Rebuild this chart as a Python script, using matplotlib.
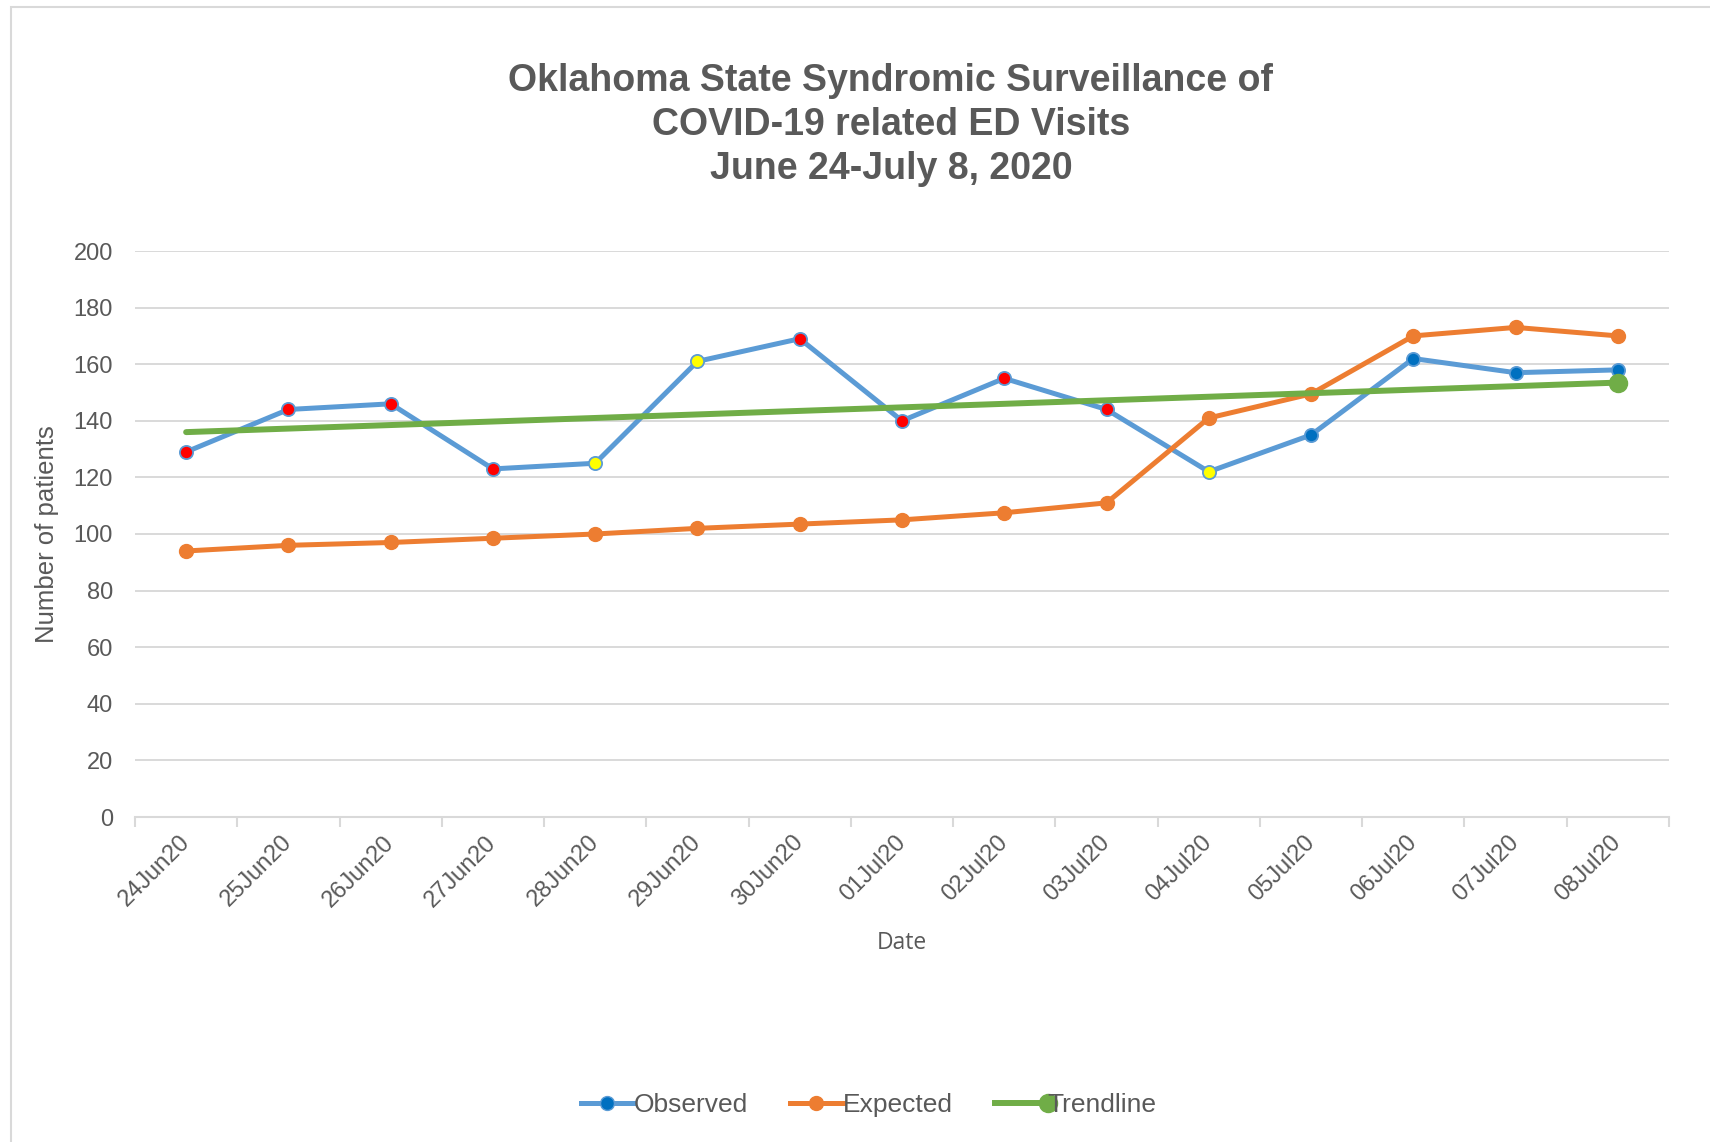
import matplotlib
matplotlib.use("Agg")
import matplotlib.pyplot as plt
from matplotlib.patches import Rectangle
from matplotlib.lines import Line2D
from matplotlib.legend_handler import HandlerLine2D
from matplotlib.transforms import ScaledTranslation

dates = ["24Jun20", "25Jun20", "26Jun20", "27Jun20", "28Jun20", "29Jun20", "30Jun20",
         "01Jul20", "02Jul20", "03Jul20", "04Jul20", "05Jul20", "06Jul20", "07Jul20", "08Jul20"]
observed = [129, 144, 146, 123, 125, 161, 169, 140, 155, 144, 122, 135, 162, 157, 158]
observed_flag = ["red", "red", "red", "red", "yellow", "yellow", "red",
                 "red", "red", "red", "yellow", "blue", "blue", "blue", "blue"]
expected = [94, 96, 97, 98.5, 100, 102, 103.5, 105, 107.5, 111, 141, 149.5, 170, 173, 170]
trend_start, trend_end = 136, 153.5
yticks = [0, 20, 40, 60, 80, 100, 120, 140, 160, 180, 200]

flag_colors = {"red": "#FF0000", "yellow": "#FFFF00", "blue": "#0070C0"}
GRAY = "#595959"
GRID = "#D9D9D9"
BLUE = "#5B9BD5"
ORANGE = "#ED7D31"
GREEN = "#70AD47"

plt.rcParams['font.family'] = ['Liberation Sans', 'DejaVu Sans']


class EndMarkerHandler(HandlerLine2D):
    def create_artists(self, legend, orig_handle, xdescent, ydescent, width, height, fontsize, trans):
        arts = super().create_artists(legend, orig_handle, xdescent, ydescent, width, height, fontsize, trans)
        for a in arts:
            a.set_markevery([len(a.get_xdata()) - 1])
        return arts


fig = plt.figure(figsize=(17.10, 11.42), dpi=100)
fig.patches.append(Rectangle((11/1710, -0.01), 1.02, 1 - 7/1142 + 0.01, transform=fig.transFigure,
                             fill=False, edgecolor=GRID, linewidth=1.5))

ax = fig.add_axes([135/1710, 1 - 817/1142, (1669 - 135)/1710, (817 - 251)/1142])
x = list(range(len(dates)))

ax.plot(x, observed, color=BLUE, lw=3.6, zorder=3, solid_joinstyle='round')
for xi, yi, fl in zip(x, observed, observed_flag):
    ax.plot(xi, yi, marker='o', ms=9.5, mfc=flag_colors[fl], mec=BLUE, mew=1.3, zorder=4)
ax.plot(x, expected, color=ORANGE, lw=3.6, marker='o', ms=10, mfc=ORANGE, mec=ORANGE, zorder=3,
        solid_joinstyle='round')
ax.plot([x[0], x[-1]], [trend_start, trend_end], color=GREEN, lw=4.3, zorder=5,
        marker='o', ms=13, markevery=[1], solid_capstyle='round')

ax.set_xlim(-0.5, len(dates) - 0.5)
ax.set_ylim(0, 200)
ax.set_yticks(yticks)
ax.yaxis.grid(True, color=GRID, lw=1.4)
ax.set_axisbelow(True)
for s in ["top", "right", "left"]:
    ax.spines[s].set_visible(False)
ax.spines["bottom"].set_color(GRID)
ax.spines["bottom"].set_linewidth(1.5)
ax.tick_params(axis='y', length=0, labelsize=17, labelcolor=GRAY, pad=16)
ax.set_xticks([i - 0.5 for i in range(len(dates) + 1)])
ax.set_xticklabels([])
ax.tick_params(axis='x', which='major', length=7, color=GRID, width=1.5)
ax.set_xticks(x, minor=True)
labels = ax.set_xticklabels(dates, minor=True, rotation=45, ha='right', va='center',
                            rotation_mode='anchor', fontsize=17, color=GRAY)
off = ScaledTranslation(5/100, 0, fig.dpi_scale_trans)
for lab in labels:
    lab.set_transform(lab.get_transform() + off)
ax.tick_params(axis='x', which='minor', length=0, pad=16)

ax.set_ylabel("Number of patients", fontsize=18.5, color=GRAY, labelpad=10)
ax.set_xlabel("Date", fontsize=16.5, color=GRAY, family=['Open Sans', 'DejaVu Sans'], labelpad=14)

fig.text(0.521, 1 - 125/1142, "Oklahoma State Syndromic Surveillance of\nCOVID-19 related ED Visits\nJune 24-July 8, 2020",
         ha='center', va='center', fontsize=27, fontweight='bold', color=GRAY, linespacing=1.3)

handles = [Line2D([], [], color=BLUE, lw=3.6, marker='o', ms=10, mfc="#0070C0", mec=BLUE),
           Line2D([], [], color=ORANGE, lw=3.6, marker='o', ms=10, mfc=ORANGE, mec=ORANGE),
           Line2D([], [], color=GREEN, lw=4.3, marker='o', ms=13, mfc=GREEN, mec=GREEN)]
fig.legend(handles, ["Observed", "Expected", "Trendline"], loc='center', bbox_to_anchor=(0.508, 1 - 1105/1142),
           ncol=3, frameon=False, fontsize=19, labelcolor=GRAY, handlelength=2.0, handletextpad=0.0,
           columnspacing=1.6, handler_map={handles[2]: EndMarkerHandler()})

fig.savefig("out.png", dpi=100)
